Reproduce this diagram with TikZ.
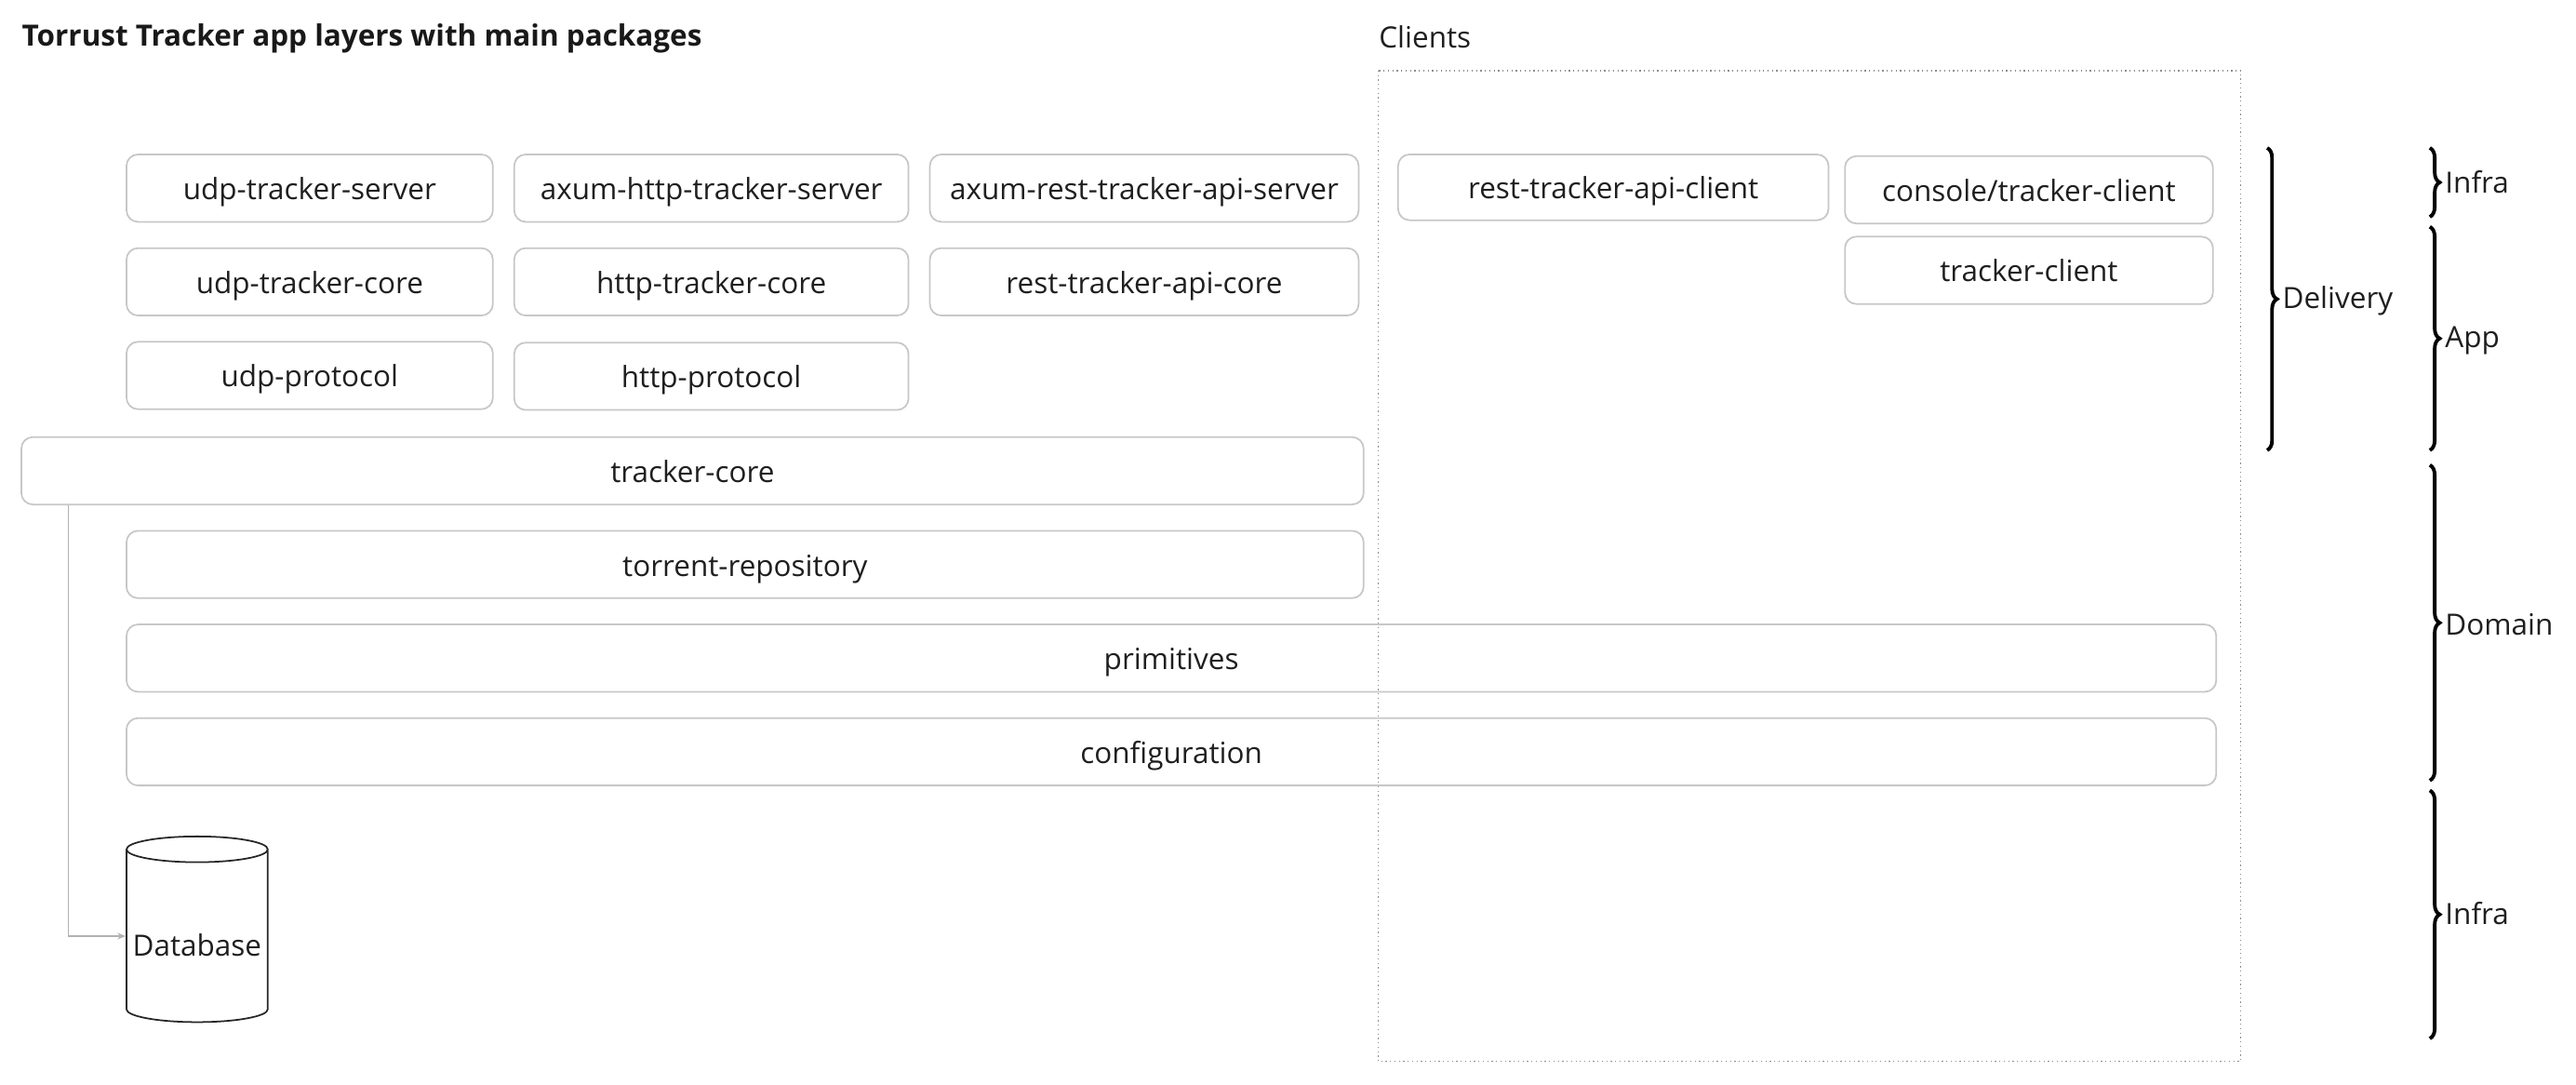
\documentclass[tikz,border=0pt]{standalone}
\usepackage{fontspec}
\setmainfont{Open Sans}
\usepackage{tikz}
\usetikzlibrary{calc,arrows.meta,shapes.geometric,decorations.pathreplacing}
\newcommand{\pkgfont}{\fontsize{8.95}{10}\selectfont}
\tikzset{
    pkg/.style={
           draw=black!22, line width=0.5pt,
           rounded corners=3.5pt,
           inner sep=0pt,
           text height=7.1pt, text depth=0pt,
           text=black!88,
           font=\pkgfont,
           },
    pkgsize/.style 2 args={minimum width=#1*0.01766cm, minimum height=#2*0.01766cm},
    layer/.style={
           decorate,
           decoration={brace, amplitude=3pt, aspect=0.5},
           line width=1.1pt,
           },
    layertext/.style={anchor=west, inner sep=0pt, text=black!88, font=\pkgfont},
}

\begin{document}
\begin{tikzpicture}[x=0.01766cm, y=-0.01766cm]
\useasboundingbox (0,0) rectangle (1568,660);
\node[anchor=west, inner sep=0pt, font=\pkgfont\bfseries, text=black!90] (title) at (13,23.5) {Torrust Tracker app layers with main packages};
% clients
\node[anchor=west, inner sep=0pt, font=\pkgfont, text=black!88] (clientstitle) at (839,22.5) {Clients};
\draw[draw=black!45, densely dotted, line width=0.35pt] (839,43) rectangle (1364,646);
% delivery
\node[pkg, pkgsize={223}{41}] (udpserver) at (188.5,114.5) {udp-tracker-server};
\node[pkg, pkgsize={240}{41}] (httpserver) at (433,114.5) {axum-http-tracker-server};
\node[pkg, pkgsize={261}{41}] (apiserver) at (696.5,114.5) {axum-rest-tracker-api-server};
\node[pkg, pkgsize={262}{40}] (apiclient) at (982,114) {rest-tracker-api-client};
\node[pkg, pkgsize={224}{41}] (consoleclient) at (1235,115.5) {console/tracker-client};
\node[pkg, pkgsize={223}{41}] (udpcore) at (188.5,171.5) {udp-tracker-core};
\node[pkg, pkgsize={240}{41}] (httpcore) at (433,171.5) {http-tracker-core};
\node[pkg, pkgsize={261}{41}] (apicore) at (696.5,171.5) {rest-tracker-api-core};
\node[pkg, pkgsize={224}{41}] (trackerclient) at (1235,164.5) {tracker-client};
\node[pkg, pkgsize={223}{41}] (udpproto) at (188.5,228.5) {udp-protocol};
\node[pkg, pkgsize={240}{41}] (httpproto) at (433,229) {http-protocol};
% domain
\node[pkg, pkgsize={817}{41}] (core) at (421.5,286.5) {tracker-core};
\node[pkg, pkgsize={753}{41}] (repo) at (453.5,343.5) {torrent-repository};
\node[pkg, pkgsize={1272}{41}] (primitives) at (713,400.5) {primitives};
\node[pkg, pkgsize={1272}{41}] (config) at (713,457.5) {configuration};
% infra
\node[cylinder, shape border rotate=90, aspect=0.2, draw=black!85, line width=0.5pt,
      minimum width=86*0.01766cm, minimum height=113*0.01766cm, inner sep=0pt,
      text height=14.5pt, text depth=2pt, anchor=shape center,
      text=black!88, font=\pkgfont] (db) at (120,565.5) {Database};
\draw[draw=black!30, line width=0.45pt, -{Stealth[length=2.5pt, width=2pt]}] ($(core.south west)+(29,0)$) |- (db.west);
% layers
\draw[layer] (1380,90) -- (1380,274);
\node[layertext] (delivery) at (1389,183) {Delivery};
\draw[layer] (1479,90) -- (1479,132);
\node[layertext] (infratop) at (1488,111) {Infra};
\draw[layer] (1479,138) -- (1479,274);
\node[layertext] (app) at (1488,207) {App};
\draw[layer] (1479,283) -- (1479,475);
\node[layertext] (domain) at (1488,380) {Domain};
\draw[layer] (1479,481) -- (1479,632);
\node[layertext] (infrabottom) at (1488,556) {Infra};
\end{tikzpicture}
\end{document}
